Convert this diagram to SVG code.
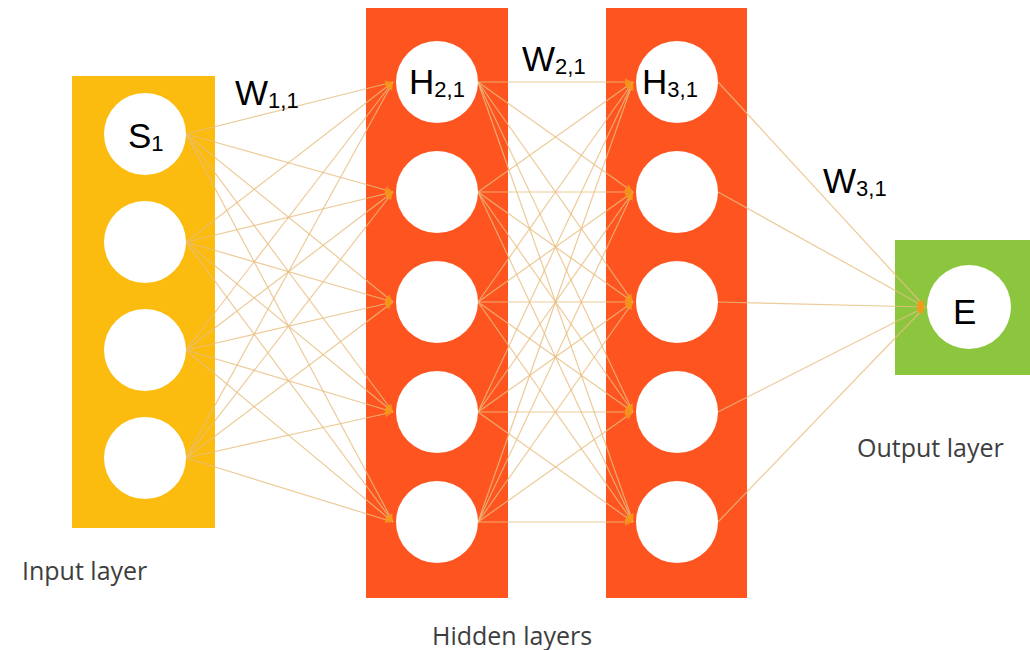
<svg xmlns="http://www.w3.org/2000/svg" width="1030" height="650" viewBox="0 0 1030 650">
  <style>
    .in { fill: #fbbb0f; }
    .hid { fill: #fe5520; }
    .out { fill: #8cc63f; }
    .node { fill: #ffffff; }
    .w { stroke: #e9bf80; stroke-width: 1.2; fill: none; opacity: 0.8; marker-end: url(#tip); }
    .sym { font-family: "Liberation Sans", Arial, sans-serif; font-size: 35px; fill: #000; }
    .sub { font-size: 22px; }
    .cap { font-family: "Open Sans", "Liberation Sans", sans-serif; font-size: 25px; fill: #3e3e3e; }
  </style>
  <defs>
    <marker id="tip" markerUnits="userSpaceOnUse" markerWidth="10" markerHeight="8" refX="8" refY="4" orient="auto">
      <path d="M0,0.5 L8,4 L0,7.5 z" fill="#f59a1b"/>
    </marker>
  </defs>

  <rect width="1030" height="650" fill="#ffffff"/>

  <!-- layer panels -->
  <g id="input-layer"><rect class="in" x="72" y="76" width="143" height="452"/></g>
  <g id="hidden-layer-2"><rect class="hid" x="366" y="8" width="142" height="590"/></g>
  <g id="hidden-layer-3"><rect class="hid" x="606" y="8" width="141" height="590"/></g>
  <g id="output-layer"><rect class="out" x="895" y="240" width="135" height="135"/></g>

  <!-- weighted connections -->
  <g id="connectors">
    <!-- input -> hidden 2 -->
    <line class="w" x1="186" y1="134" x2="393" y2="82"/>
    <line class="w" x1="186" y1="134" x2="393" y2="192"/>
    <line class="w" x1="186" y1="134" x2="393" y2="302"/>
    <line class="w" x1="186" y1="134" x2="393" y2="412"/>
    <line class="w" x1="186" y1="134" x2="393" y2="522"/>
    <line class="w" x1="186" y1="242" x2="393" y2="82"/>
    <line class="w" x1="186" y1="242" x2="393" y2="192"/>
    <line class="w" x1="186" y1="242" x2="393" y2="302"/>
    <line class="w" x1="186" y1="242" x2="393" y2="412"/>
    <line class="w" x1="186" y1="242" x2="393" y2="522"/>
    <line class="w" x1="186" y1="350" x2="393" y2="82"/>
    <line class="w" x1="186" y1="350" x2="393" y2="192"/>
    <line class="w" x1="186" y1="350" x2="393" y2="302"/>
    <line class="w" x1="186" y1="350" x2="393" y2="412"/>
    <line class="w" x1="186" y1="350" x2="393" y2="522"/>
    <line class="w" x1="186" y1="458" x2="393" y2="82"/>
    <line class="w" x1="186" y1="458" x2="393" y2="192"/>
    <line class="w" x1="186" y1="458" x2="393" y2="302"/>
    <line class="w" x1="186" y1="458" x2="393" y2="412"/>
    <line class="w" x1="186" y1="458" x2="393" y2="522"/>
    <!-- hidden 2 -> hidden 3 -->
    <line class="w" x1="478" y1="82" x2="633" y2="82"/>
    <line class="w" x1="478" y1="82" x2="633" y2="192"/>
    <line class="w" x1="478" y1="82" x2="633" y2="302"/>
    <line class="w" x1="478" y1="82" x2="633" y2="412"/>
    <line class="w" x1="478" y1="82" x2="633" y2="522"/>
    <line class="w" x1="478" y1="192" x2="633" y2="82"/>
    <line class="w" x1="478" y1="192" x2="633" y2="192"/>
    <line class="w" x1="478" y1="192" x2="633" y2="302"/>
    <line class="w" x1="478" y1="192" x2="633" y2="412"/>
    <line class="w" x1="478" y1="192" x2="633" y2="522"/>
    <line class="w" x1="478" y1="302" x2="633" y2="82"/>
    <line class="w" x1="478" y1="302" x2="633" y2="192"/>
    <line class="w" x1="478" y1="302" x2="633" y2="302"/>
    <line class="w" x1="478" y1="302" x2="633" y2="412"/>
    <line class="w" x1="478" y1="302" x2="633" y2="522"/>
    <line class="w" x1="478" y1="412" x2="633" y2="82"/>
    <line class="w" x1="478" y1="412" x2="633" y2="192"/>
    <line class="w" x1="478" y1="412" x2="633" y2="302"/>
    <line class="w" x1="478" y1="412" x2="633" y2="412"/>
    <line class="w" x1="478" y1="412" x2="633" y2="522"/>
    <line class="w" x1="478" y1="522" x2="633" y2="82"/>
    <line class="w" x1="478" y1="522" x2="633" y2="192"/>
    <line class="w" x1="478" y1="522" x2="633" y2="302"/>
    <line class="w" x1="478" y1="522" x2="633" y2="412"/>
    <line class="w" x1="478" y1="522" x2="633" y2="522"/>
    <!-- hidden 3 -> output -->
    <line class="w" x1="718" y1="82" x2="925" y2="307"/>
    <line class="w" x1="718" y1="192" x2="925" y2="307"/>
    <line class="w" x1="718" y1="302" x2="925" y2="307"/>
    <line class="w" x1="718" y1="412" x2="925" y2="307"/>
    <line class="w" x1="718" y1="522" x2="925" y2="307"/>
  </g>

  <!-- input neurons -->
  <g id="s1"><circle class="node" cx="145" cy="134" r="41"/>
    <text class="sym" x="128" y="148">S<tspan class="sub" dy="3">1</tspan></text></g>
  <g id="s2"><circle class="node" cx="145" cy="242" r="41"/></g>
  <g id="s3"><circle class="node" cx="145" cy="350" r="41"/></g>
  <g id="s4"><circle class="node" cx="145" cy="458" r="41"/></g>

  <!-- hidden layer 2 neurons -->
  <g id="h2-1"><circle class="node" cx="437" cy="82" r="41"/>
    <text class="sym" x="409" y="94">H<tspan class="sub" dy="3">2,1</tspan></text></g>
  <g id="h2-2"><circle class="node" cx="437" cy="192" r="41"/></g>
  <g id="h2-3"><circle class="node" cx="437" cy="302" r="41"/></g>
  <g id="h2-4"><circle class="node" cx="437" cy="412" r="41"/></g>
  <g id="h2-5"><circle class="node" cx="437" cy="522" r="41"/></g>

  <!-- hidden layer 3 neurons -->
  <g id="h3-1"><circle class="node" cx="677" cy="82" r="41"/>
    <text class="sym" x="642" y="94">H<tspan class="sub" dy="3">3,1</tspan></text></g>
  <g id="h3-2"><circle class="node" cx="677" cy="192" r="41"/></g>
  <g id="h3-3"><circle class="node" cx="677" cy="302" r="41"/></g>
  <g id="h3-4"><circle class="node" cx="677" cy="412" r="41"/></g>
  <g id="h3-5"><circle class="node" cx="677" cy="522" r="41"/></g>

  <!-- output neuron -->
  <g id="e"><circle class="node" cx="969" cy="307" r="42"/>
    <text class="sym" x="953" y="324">E</text></g>

  <!-- weight labels -->
  <g id="weight-labels">
    <text class="sym" x="235" y="105">W<tspan class="sub" dy="3">1,1</tspan></text>
    <text class="sym" x="522" y="71">W<tspan class="sub" dy="3">2,1</tspan></text>
    <text class="sym" x="823" y="193">W<tspan class="sub" dy="3">3,1</tspan></text>
  </g>

  <!-- layer captions -->
  <g id="captions">
    <text class="cap" x="22" y="580">Input layer</text>
    <text class="cap" x="432" y="645">Hidden layers</text>
    <text class="cap" x="857" y="457">Output layer</text>
  </g>
</svg>
